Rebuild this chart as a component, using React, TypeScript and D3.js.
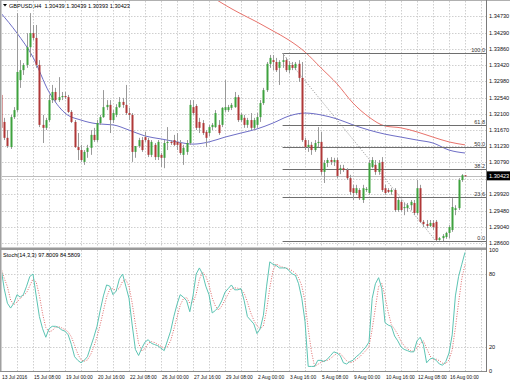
import React from "react";
import * as d3 from "d3";

const W = 510;
const H = 382;

// GBPUSD H4 candles (bar 0 = 13 Jul 2016 16:00)
const opens = [1.3261,1.3188,1.3145,1.3120,1.3201,1.3220,1.3301,1.3328,1.3342,1.3390,1.3428,1.3415,1.3342,1.3180,1.3172,1.3193,1.3247,1.3269,1.3247,1.3255,1.3258,1.3255,1.3215,1.3188,1.3120,1.3112,1.3080,1.3107,1.3118,1.3153,1.3139,1.3185,1.3201,1.3228,1.3234,1.3193,1.3207,1.3228,1.3242,1.3234,1.3212,1.3207,1.3107,1.3123,1.3139,1.3147,1.3139,1.3099,1.3126,1.3093,1.3099,1.3091,1.3131,1.3134,1.3139,1.3134,1.3131,1.3099,1.3107,1.3131,1.3228,1.3231,1.3188,1.3185,1.3161,1.3158,1.3174,1.3174,1.3180,1.3180,1.3220,1.3220,1.3226,1.3228,1.3255,1.3193,1.3199,1.3180,1.3193,1.3172,1.3180,1.3201,1.3239,1.3274,1.3345,1.3355,1.3350,1.3334,1.3350,1.3355,1.3328,1.3342,1.3334,1.3345,1.3307,1.3139,1.3120,1.3126,1.3112,1.3131,1.3134,1.3053,1.3077,1.3085,1.3080,1.3085,1.3058,1.3063,1.3058,1.3036,1.3009,1.2996,1.3004,1.2977,1.3004,1.2996,1.3066,1.3072,1.3053,1.3080,1.3009,1.3004,1.2999,1.3004,1.2950,1.2972,1.2955,1.2955,1.2963,1.2969,1.2942,1.3009,1.2918,1.2912,1.2907,1.2915,1.2918,1.2869,1.2874,1.2877,1.2888,1.2896,1.2950,1.2955,1.3031,1.30439];
const highs = [1.3280,1.3199,1.3166,1.3207,1.3228,1.3482,1.3355,1.3347,1.3428,1.3482,1.3450,1.3450,1.3355,1.3207,1.3199,1.3261,1.3288,1.3280,1.3309,1.3269,1.3269,1.3261,1.3220,1.3193,1.3158,1.3126,1.3112,1.3126,1.3166,1.3172,1.3193,1.3207,1.3274,1.3247,1.3247,1.3220,1.3236,1.3255,1.3253,1.3288,1.3226,1.3212,1.3118,1.3145,1.3147,1.3161,1.3145,1.3139,1.3131,1.3139,1.3104,1.3139,1.3174,1.3139,1.3153,1.3158,1.3139,1.3126,1.3139,1.3247,1.3247,1.3236,1.3199,1.3193,1.3166,1.3180,1.3185,1.3220,1.3193,1.3228,1.3301,1.3234,1.3239,1.3269,1.3261,1.3212,1.3207,1.3199,1.3212,1.3199,1.3212,1.3247,1.3280,1.3350,1.3369,1.3369,1.3361,1.3355,1.33735,1.3361,1.3350,1.3350,1.3350,1.3355,1.3350,1.3145,1.3139,1.3134,1.3139,1.3174,1.3161,1.3085,1.3091,1.3093,1.3091,1.3091,1.3072,1.3072,1.3063,1.3045,1.3018,1.3018,1.3009,1.3018,1.3012,1.3085,1.3093,1.3085,1.3085,1.3093,1.3018,1.3009,1.3009,1.3009,1.2982,1.2977,1.2969,1.2969,1.2977,1.2977,1.3031,1.3018,1.2923,1.2923,1.2923,1.2923,1.2923,1.2877,1.2885,1.2891,1.2909,1.2982,1.2963,1.3036,1.3047,1.30439];
const lows = [1.3166,1.3139,1.3118,1.3115,1.3196,1.3215,1.3280,1.3315,1.3334,1.3363,1.3409,1.3334,1.3174,1.3131,1.3166,1.3188,1.3239,1.3242,1.3242,1.3247,1.3250,1.3212,1.3185,1.3118,1.3085,1.3080,1.3072,1.3091,1.3099,1.3134,1.3134,1.3180,1.3199,1.3220,1.3158,1.3185,1.3201,1.3226,1.3226,1.3207,1.3193,1.3080,1.3091,1.3118,1.3107,1.3134,1.3093,1.3093,1.3085,1.3085,1.3066,1.3063,1.3112,1.3126,1.3123,1.3112,1.3099,1.3072,1.3099,1.3126,1.3207,1.3166,1.3158,1.3153,1.3120,1.3150,1.3166,1.3172,1.3153,1.3174,1.3215,1.3215,1.3220,1.3226,1.3188,1.3188,1.3172,1.3172,1.3166,1.3166,1.3172,1.3188,1.3234,1.3269,1.3334,1.3328,1.3323,1.3288,1.3334,1.3323,1.3320,1.3328,1.3328,1.3296,1.3134,1.3112,1.3107,1.3099,1.3107,1.3120,1.3045,1.3023,1.3066,1.3072,1.3069,1.3036,1.3047,1.3053,1.3031,1.2991,1.2977,1.2991,1.2977,1.2969,1.2999,1.2991,1.3063,1.3045,1.3045,1.2999,1.2991,1.2996,1.2991,1.2945,1.2945,1.2945,1.2936,1.2945,1.2950,1.2936,1.2936,1.2915,1.2904,1.2901,1.2904,1.2896,1.28654,1.2867,1.2866,1.2872,1.2874,1.2891,1.2936,1.2950,1.3026,1.30393];
const closes = [1.3172,1.3145,1.3123,1.3201,1.3220,1.3323,1.3328,1.3342,1.3390,1.3428,1.3415,1.3342,1.3180,1.3172,1.3193,1.3247,1.3269,1.3247,1.3255,1.3258,1.3255,1.3215,1.3188,1.3120,1.3112,1.3085,1.3107,1.3118,1.3153,1.3139,1.3185,1.3201,1.3228,1.3234,1.3193,1.3212,1.3228,1.3242,1.3234,1.3212,1.3207,1.3107,1.3123,1.3139,1.3112,1.3139,1.3099,1.3134,1.3093,1.3134,1.3091,1.3131,1.3134,1.3131,1.3126,1.3126,1.3104,1.3118,1.3131,1.3234,1.3212,1.3172,1.3172,1.3158,1.3145,1.3174,1.3180,1.3212,1.3158,1.3226,1.3228,1.3228,1.3234,1.3255,1.3193,1.3207,1.3180,1.3193,1.3172,1.3193,1.3201,1.3239,1.3274,1.3345,1.3361,1.3350,1.3328,1.3350,1.3355,1.3328,1.3342,1.3334,1.3345,1.3307,1.3139,1.3120,1.3126,1.3112,1.3131,1.3134,1.3053,1.3077,1.3085,1.3080,1.3085,1.3042,1.3063,1.3058,1.3036,1.2999,1.2996,1.3009,1.2982,1.3009,1.3007,1.3077,1.3085,1.3053,1.3077,1.3004,1.2996,1.2999,1.3004,1.2950,1.2977,1.2950,1.2958,1.2963,1.2972,1.2942,1.3009,1.2918,1.2912,1.2907,1.2915,1.2904,1.2869,1.2874,1.2880,1.2888,1.2904,1.2958,1.2955,1.3031,1.3044,1.30423];

// Moving averages (bar index, value)
const maBlueBars = [0,5,10,15,20,25,30,35,40,45,50,55,60,65,70,75,80,85,90,95,100,105,110,115,120,125,130,135,140,145];
const maBlueVals = [1.3482,1.3428,1.3363,1.3269,1.3212,1.3193,1.3183,1.3180,1.3166,1.3150,1.3142,1.3134,1.3128,1.3134,1.3147,1.3158,1.3169,1.3185,1.3204,1.3212,1.3207,1.3196,1.3180,1.3166,1.3155,1.3147,1.3139,1.3131,1.3112,1.3104];
const maRedBars = [60,65,70,75,80,85,90,95,100,105,110,115,120,125,130,135,140,145];
const maRedVals = [1.3558,1.3531,1.3504,1.3480,1.3458,1.3434,1.3409,1.3377,1.3334,1.3291,1.3239,1.3201,1.3177,1.3172,1.3161,1.3147,1.3134,1.3126];

// Stochastic %K per bar
const stochK = [85,68,56,52,56,63,61,63,70,78,80,62,45,35,28,35,37,37,36,34,33,30,22,12,9,7,9,12,20,28,37,50,62,71,70,63,66,76,80,70,60,38,18,13,19,24,26,23,22,21,19,17,25,33,45,55,63,61,58,49,62,80,85,80,70,63,48,50,53,58,65,68,71,67,67,68,58,45,42,39,31,35,46,70,90,88,87,85,85,85,83,80,79,72,60,41,4,4,4,9,9,8,10,13,16,15,13,7,6,8,9,12,14,17,20,24,60,72,77,68,40,38,37,29,25,20,18,17,16,16,25,28,22,7,10,11,9,6,5,8,15,30,62,78,88,97.8009];

const priceTicks = [1.3473,1.3429,1.3386,1.3342,1.3298,1.3254,1.3210,1.3167,1.3123,1.3079,1.3035,1.2992,1.2948,1.2904,1.2860];
const stochTicks = [100,80,20,0];
const timeLabels = ["13 Jul 2016","15 Jul 08:00","19 Jul 00:00","20 Jul 16:00","22 Jul 08:00","26 Jul 00:00","27 Jul 16:00","29 Jul 08:00","2 Aug 00:00","3 Aug 16:00","5 Aug 08:00","9 Aug 00:00","10 Aug 16:00","12 Aug 08:00","16 Aug 00:00"];
const fibLevels = [100, 61.8, 50, 38.2, 23.6, 0];
const fibFrom = 88;
const fibTo = 136;
const bid = 1.30423;
const titleText = "GBPUSD,H4  1.30439 1.30439 1.30393 1.30423";
const stochTitle = "Stoch(14,3,3) 97.8009 84.5809";

const FONT = "'Liberation Sans', Arial, sans-serif";

export default function App() {
  const plotL = 2, plotR = 486;
  const mainTop = 1, mainBot = 247;
  const stTop = 250, stBot = 371;
  const x = d3.scaleLinear().domain([0, 145]).range([1, 465]);
  const y = d3.scaleLinear().domain([1.285, 1.35148]).range([mainBot, mainTop]);
  const ys = d3.scaleLinear().domain([0, 100]).range([371.3, 249.7]);

  const stochD = stochK.map((_, i) => {
    const s = stochK.slice(Math.max(0, i - 2), i + 1);
    return d3.mean(s) as number;
  });

  const maLine = d3.line<[number, number]>().x(d => x(d[0])).y(d => y(d[1])).curve(d3.curveMonotoneX);
  const blueData = maBlueBars.map((b, i) => [b, maBlueVals[i]] as [number, number]);
  const redData = maRedBars.map((b, i) => [b, maRedVals[i]] as [number, number]);
  const stLine = d3.line<number>().x((_, i) => x(i)).y(d => ys(d));

  const vGrid: number[] = [];
  for (let k = 0; k * 5 <= 150; k++) {
    const gx = x(k * 5);
    if (gx > plotL + 2 && gx < plotR - 1) vGrid.push(gx);
  }

  const hi = highs[fibFrom];
  const lo = lows[fibTo];
  const yb = y(bid);

  return (
    <svg width={W} height={H} style={{ position: "absolute", left: 0, top: 0, background: "#fff" }} fontFamily={FONT}>
      <defs>
        <clipPath id="mainClip"><rect x={plotL} y={mainTop} width={plotR - plotL} height={mainBot - mainTop} /></clipPath>
        <clipPath id="stClip"><rect x={plotL} y={stTop} width={plotR - plotL} height={stBot - stTop} /></clipPath>
      </defs>
      <rect x={0} y={0} width={W} height={H} fill="#fff" />

      {/* grid main */}
      <g stroke="#cfcfcf" strokeWidth={1} strokeDasharray="1.5,1.5">
        {priceTicks.map((t, i) => (
          <line key={"h" + i} x1={plotL} x2={plotR} y1={Math.round(y(t)) + 0.5} y2={Math.round(y(t)) + 0.5} />
        ))}
        {vGrid.map((gx, i) => (
          <line key={"v" + i} x1={Math.round(gx) + 0.5} x2={Math.round(gx) + 0.5} y1={mainTop} y2={mainBot} />
        ))}
        {[80, 20].map((t, i) => (
          <line key={"sh" + i} x1={plotL} x2={plotR} y1={Math.round(ys(t)) + 0.5} y2={Math.round(ys(t)) + 0.5} />
        ))}
        {vGrid.map((gx, i) => (
          <line key={"sv" + i} x1={Math.round(gx) + 0.5} x2={Math.round(gx) + 0.5} y1={stTop} y2={stBot} />
        ))}
      </g>

      <g clipPath="url(#mainClip)">
        {/* bid line */}
        <line x1={plotL} x2={plotR} y1={Math.round(yb) + 0.5} y2={Math.round(yb) + 0.5} stroke="#bdbdbd" strokeWidth={1} />
        {/* moving averages */}
        <path d={maLine(redData) || ""} fill="none" stroke="#e8736c" strokeWidth={1} />
        <path d={maLine(blueData) || ""} fill="none" stroke="#6e6ec6" strokeWidth={1} />
        {/* fibonacci */}
        <line x1={x(fibFrom)} y1={y(hi)} x2={x(fibTo)} y2={y(lo)} stroke="#7a7a7a" strokeWidth={0.8} strokeDasharray="1,1.5" />
        {fibLevels.map((f, i) => {
          const fy = Math.round(y(lo + (hi - lo) * f / 100)) + 0.5;
          return (
            <g key={"f" + i}>
              <line x1={x(fibFrom)} x2={plotR} y1={fy} y2={fy} stroke="#6e6e6e" strokeWidth={1} />
              <text x={plotR - 1} y={fy - 1.5} fontSize={5.5} textAnchor="end" fill="#333">{f.toFixed(1)}</text>
            </g>
          );
        })}
        {/* candles */}
        {closes.map((c, i) => {
          const o = opens[i];
          const cx = Math.round(x(i)) + 0.5;
          const top = y(Math.max(o, c));
          const bot = y(Math.min(o, c));
          const up = c >= o;
          return (
            <g key={"c" + i}>
              <line x1={cx} x2={cx} y1={y(highs[i])} y2={y(lows[i])} stroke="#9a9a9a" strokeWidth={1} />
              <rect x={cx - 1} y={top} width={2} height={Math.max(1, bot - top)} fill={up ? "#3ea23e" : "#b03838"} />
            </g>
          );
        })}
      </g>

      {/* stochastic */}
      <g clipPath="url(#stClip)">
        <path d={stLine(stochD) || ""} fill="none" stroke="#e06a6a" strokeWidth={1} strokeDasharray="1,1.5" />
        <path d={stLine(stochK) || ""} fill="none" stroke="#5cc4b3" strokeWidth={1} />
      </g>

      {/* borders */}
      <rect x={0} y={0} width={W} height={1} fill="#b0b0b0" />
      <rect x={0} y={0} width={1.5} height={stBot} fill="#a0a0a0" />
      <rect x={0} y={247.5} width={plotR} height={2.5} fill="#9a9a9a" />
      <line x1={0} x2={plotR} y1={stBot + 0.5} y2={stBot + 0.5} stroke="#8a8a8a" />
      <line x1={plotR + 0.5} x2={plotR + 0.5} y1={0} y2={stBot + 1} stroke="#7a7a7a" />

      {/* price axis labels */}
      <g fontSize={5.6} fill="#111">
        {priceTicks.filter(t => Math.abs(y(t) - yb) > 7).map((t, i) => (
          <text key={"p" + i} x={plotR + 3} y={y(t) + 2}>{t.toFixed(5)}</text>
        ))}
        {stochTicks.map((t, i) => (
          <text key={"s" + i} x={plotR + 3} y={ys(t) + 2}>{t}</text>
        ))}
      </g>
      <rect x={plotR + 1} y={yb - 4.5} width={W - plotR - 1} height={9} fill="#000" />
      <text x={plotR + 3} y={yb + 2} fontSize={5.6} fill="#fff">{bid.toFixed(5)}</text>

      {/* time labels */}
      <g fontSize={4.9} fill="#111">
        {timeLabels.map((t, i) => (
          <text key={"t" + i} x={x(i * 10) + 1} y={379}>{t}</text>
        ))}
      </g>

      {/* titles */}
      <path d="M3,4 L7,4 L5,6.5 Z" fill="#000" />
      <text x={9} y={7.5} fontSize={5.6} fill="#000" style={{ whiteSpace: "pre" }}>{titleText}</text>
      <text x={3} y={257} fontSize={5.6} fill="#000">{stochTitle}</text>
    </svg>
  );
}
